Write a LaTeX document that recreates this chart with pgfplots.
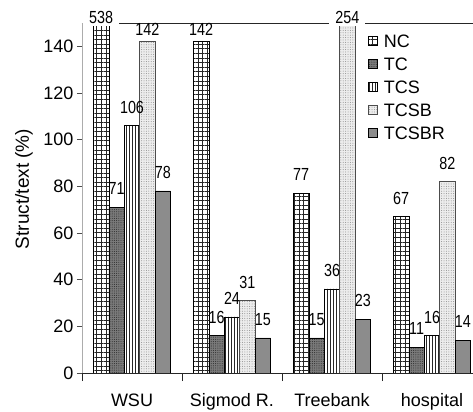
\documentclass[border=0pt]{standalone}
\usepackage{fontspec}
\setmainfont{Liberation Sans}
\usepackage{graphicx}
\usepackage{pgfplots}
\pgfplotsset{compat=1.18}
\usepackage{pgfplotstable}
\usetikzlibrary{patterns,patterns.meta}

% one table per series: x = category index, v = value, lab = label drawn above the bar
\pgfplotstableread{
x v lab
0 538 {}
1 142 {}
2 77 77
3 67 67
}\tNC
\pgfplotstableread{
x v lab
0 71 71
1 16 16
2 15 15
3 11 11
}\tTC
\pgfplotstableread{
x v lab
0 106 106
1 24 24
2 36 36
3 16 16
}\tTCS
\pgfplotstableread{
x v lab
0 142 {}
1 31 31
2 254 {}
3 82 82
}\tTCSB
\pgfplotstableread{
x v lab
0 78 78
1 15 15
2 23 23
3 14 14
}\tTCSBR
% labels of the bars that reach the top of the axis
\pgfplotstableread{
x y lab
-0.308 150 538
2.154 150 254
}\tClip
\pgfplotstableread{
x y lab
0.154 142 142
0.692 142 142
}\tTop

\newcommand\tf{\fontsize{18bp}{21bp}\selectfont}
\newcommand\lf{\fontsize{17.5bp}{20bp}\selectfont}

\tikzset{
  sNC/.style={draw=black, line width=0.7bp, fill=white,
    postaction={pattern={Hatch[distance=4.6bp, angle=0, line width=0.45bp]}, pattern color=black!85}},
  sTC/.style={draw=black, line width=0.7bp, fill=black!52,
    postaction={pattern={Dots[distance=2.2bp, radius=0.55bp]}, pattern color=black!80}},
  sTCS/.style={draw=black, line width=0.7bp, fill=white,
    postaction={pattern={Lines[distance=3bp, angle=90, line width=0.6bp]}, pattern color=black!85}},
  sTCSB/.style={draw=black!70, line width=0.7bp, fill=black!7,
    postaction={pattern={Dots[distance=2.4bp, radius=0.5bp]}, pattern color=black!45}},
  sTCSBR/.style={draw=black, line width=0.7bp, fill=black!45},
}

\begin{document}
\begin{tikzpicture}
\begin{axis}[
  scale only axis, width=392bp, height=350bp,
  xmin=-0.5, xmax=3.42, ymin=0, ymax=150,
  separate axis lines,
  x axis line style={black!85, line width=0.8bp},
  y axis line style={gray!65, line width=0.8bp},
  tick pos=left, tick align=outside,
  xtick={0,1,2,3}, xticklabels={WSU,Sigmod R.,Treebank,hospital},
  xtick style={draw=none},
  extra x ticks={-0.5,0.5,1.5,2.5}, extra x tick labels={},
  extra x tick style={xtick style={draw=black!85, line width=0.8bp}, major tick length=8bp},
  ytick={0,20,...,140},
  ytick style={black!70, line width=0.8bp},
  major tick length=5bp,
  /pgf/number format/assume math mode=true,
  tick label style={font=\tf},
  xticklabel style={yshift=-12bp},
  ylabel={Struct/text (\%)},
  every axis y label/.style={at={(axis description cs:-0.148,0.5257)}, anchor=center, rotate=90, font=\fontsize{19bp}{22bp}\selectfont},
  point meta=explicit symbolic,
  nodes near coords={\scalebox{0.82}[1]{\pgfplotspointmeta}},
  every node near coord/.append style={font=\lf, inner ysep=2bp, inner xsep=6bp, anchor=south, yshift=10bp},
  bar width=0.154,
  legend image code/.code={\draw[#1] (0bp,-4.5bp) rectangle (9bp,4.5bp);},
  legend style={at={(0.7296,0.981)}, anchor=north west, draw=none, fill=none, inner sep=0pt,
     font=\tf, row sep=0pt, column sep=0pt,
     /tikz/every odd column/.append style={column sep=4bp},
     nodes={text height=13bp, text depth=0bp, inner ysep=5bp, inner xsep=2bp}},
  legend cell align=left,
]
\addplot[ybar, forget plot, bar shift=-0.308, sNC,
  every node near coord/.append style={xshift=-30.8bp}] table[x=x, y=v, meta=lab] {\tNC};
\addplot[ybar, forget plot, bar shift=-0.154, sTC,
  every node near coord/.append style={xshift=-15.4bp}] table[x=x, y=v, meta=lab] {\tTC};
\addplot[ybar, forget plot, bar shift=0, sTCS] table[x=x, y=v, meta=lab] {\tTCS};
\addplot[ybar, forget plot, bar shift=0.154, sTCSB,
  every node near coord/.append style={xshift=15.4bp}] table[x=x, y=v, meta=lab] {\tTCSB};
\addplot[ybar, forget plot, bar shift=0.308, sTCSBR,
  every node near coord/.append style={xshift=30.8bp}] table[x=x, y=v, meta=lab] {\tTCSBR};
\addplot[ybar, forget plot, bar shift=0, draw=none, fill=none,
  every node near coord/.append style={fill=white, yshift=-13bp}] table[x=x, y=y, meta=lab] {\tClip};
\addplot[ybar, forget plot, bar shift=0, draw=none, fill=none,
  every node near coord/.append style={yshift=-6bp}] table[x=x, y=y, meta=lab] {\tTop};
\addlegendimage{sNC}
\addlegendimage{sTC}
\addlegendimage{sTCS}
\addlegendimage{sTCSB}
\addlegendimage{sTCSBR}
\legend{NC,TC,TCS,TCSB,TCSBR}
\end{axis}
\pgfresetboundingbox
\path[use as bounding box] (-82bp,-39bp) rectangle (391bp,373bp);
\end{tikzpicture}
\end{document}
